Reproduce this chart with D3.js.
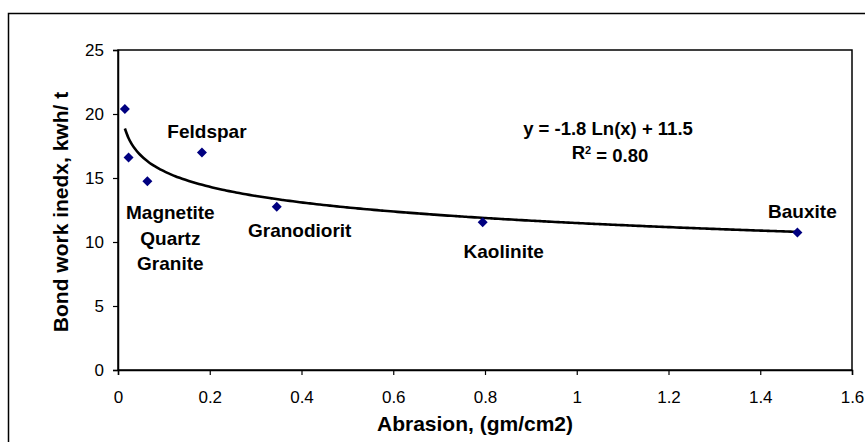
<!DOCTYPE html>
<html>
<head>
<meta charset="utf-8">
<script src="https://cdn.jsdelivr.net/npm/d3@7"></script>
<style>
  html, body { margin: 0; padding: 0; background: #fff; }
  svg { display: block; font-family: "Liberation Sans", Arial, sans-serif; }
</style>
</head>
<body>
<svg id="chart" width="865" height="442"></svg>
<script>
// ---- data ----
const abrasion  = [0.015, 0.023, 0.064, 0.183, 0.346, 0.795, 1.481];
const bondIndex = [20.4, 16.6, 14.75, 17.0, 12.75, 11.55, 10.75];
const pointNames = ["Magnetite", "Quartz", "Granite", "Feldspar", "Granodiorit", "Kaolinite", "Bauxite"];
const xTicks = [0, 0.2, 0.4, 0.6, 0.8, 1, 1.2, 1.4, 1.6];
const yTicks = [0, 5, 10, 15, 20, 25];
const xTitle = "Abrasion, (gm/cm2)";
const yTitle = "Bond work inedx, kwh/ t";

// ---- layout ----
const W = 865, H = 442;
const plot = { left: 118, right: 852, top: 50, bottom: 370 };
const svg = d3.select("#chart");

const x = d3.scaleLinear().domain([0, 1.6]).range([plot.left, plot.right]);
const y = d3.scaleLinear().domain([0, 25]).range([plot.bottom, plot.top]);

// outer chart frame
svg.append("rect")
  .attr("x", 8.5).attr("y", 13.5)
  .attr("width", W + 10).attr("height", H + 10)
  .attr("fill", "none").attr("stroke", "#000").attr("stroke-width", 1.5);

// plot area border
svg.append("rect")
  .attr("x", plot.left).attr("y", plot.top)
  .attr("width", plot.right - plot.left).attr("height", plot.bottom - plot.top)
  .attr("fill", "none").attr("stroke", "#000").attr("stroke-width", 1.5);

// axes
const xAxis = d3.axisBottom(x).tickValues(xTicks).tickSize(5).tickPadding(16)
  .tickFormat(d => String(d));
const yAxis = d3.axisLeft(y).tickValues(yTicks).tickSize(5).tickPadding(9)
  .tickFormat(d => String(d));

const gx = svg.append("g").attr("transform", `translate(0,${plot.bottom})`).call(xAxis);
const gy = svg.append("g").attr("transform", `translate(${plot.left},0)`).call(yAxis);
[gx, gy].forEach(g => {
  g.select(".domain").attr("stroke", "#000").attr("stroke-width", 1.5);
  g.selectAll(".tick line").attr("stroke", "#000").attr("stroke-width", 1.2);
  g.selectAll(".tick text").attr("fill", "#000")
    .style("font-size", "17px").style("font-family", '"Liberation Sans", Arial, sans-serif');
});

// axis titles
svg.append("text")
  .attr("x", 475).attr("y", 423).attr("dy", "0.36em")
  .attr("text-anchor", "middle")
  .style("font-size", "21px").style("font-weight", "bold")
  .text(xTitle);
svg.append("text")
  .attr("transform", "translate(60,212) rotate(-90)")
  .attr("dy", "0.36em")
  .attr("text-anchor", "middle")
  .style("font-size", "21px").style("font-weight", "bold")
  .text(yTitle);

// logarithmic trendline fitted (least squares) to the data
const lx = abrasion.map(Math.log);
const mx = d3.mean(lx), my = d3.mean(bondIndex);
const sxy = d3.sum(lx, (v, i) => (v - mx) * (bondIndex[i] - my));
const sxx = d3.sum(lx, v => (v - mx) * (v - mx));
const slope = sxy / sxx, intercept = my - slope * mx;
const syy = d3.sum(bondIndex, v => (v - my) * (v - my));
const r2 = (slope * sxy) / syy;

const xmin = d3.min(abrasion), xmax = d3.max(abrasion);
const trend = d3.range(0, 201).map(i => {
  const xv = xmin + (xmax - xmin) * i / 200;
  return [xv, slope * Math.log(xv) + intercept];
});
svg.append("path")
  .datum(trend)
  .attr("fill", "none").attr("stroke", "#000").attr("stroke-width", 2.6)
  .attr("d", d3.line().x(d => x(d[0])).y(d => y(d[1])).curve(d3.curveMonotoneX));

// markers
const diamond = d3.symbol().type(d3.symbolSquare).size(50);
svg.append("g").selectAll("path")
  .data(abrasion.map((v, i) => [v, bondIndex[i]]))
  .join("path")
  .attr("d", diamond)
  .attr("transform", d => `translate(${x(d[0])},${y(d[1])}) rotate(45)`)
  .attr("fill", "#000080");

// data labels (pixel offsets from their point)
const labelSpecs = [
  { idx: 2, lines: ["Magnetite", "Quartz", "Granite"], dx: 23, dy: 31, lh: 25.5 },
  { idx: 3, lines: ["Feldspar"], dx: 5, dy: -21, lh: 0 },
  { idx: 4, lines: ["Granodiorit"], dx: 23, dy: 23, lh: 0 },
  { idx: 5, lines: ["Kaolinite"], dx: 21, dy: 29, lh: 0 },
  { idx: 6, lines: ["Bauxite"], dx: 5, dy: -21, lh: 0 }
];
labelSpecs.forEach(s => {
  const px = x(abrasion[s.idx]) + s.dx, py = y(bondIndex[s.idx]) + s.dy;
  s.lines.forEach((t, j) => {
    svg.append("text")
      .attr("x", px).attr("y", py + j * s.lh).attr("dy", "0.36em")
      .attr("text-anchor", "middle")
      .style("font-size", "19px").style("font-weight", "bold")
      .text(t);
  });
});

// equation and R² (plain hyphen-minus, as in the original)
const fmt1 = v => v.toFixed(1);
svg.append("text")
  .attr("x", 608).attr("y", 128).attr("dy", "0.36em")
  .attr("text-anchor", "middle")
  .style("font-size", "18.5px").style("font-weight", "bold")
  .text(`y = ${fmt1(slope)} Ln(x) + ${fmt1(intercept)}`);
const rt = svg.append("text")
  .attr("x", 610).attr("y", 152).attr("dy", "0.36em")
  .attr("text-anchor", "middle")
  .style("font-size", "18.5px").style("font-weight", "bold");
rt.append("tspan").text("R");
rt.append("tspan").attr("dy", "-0.45em").style("font-size", "11px").text("2");
rt.append("tspan").attr("dy", "0.45em").text(` = ${r2.toFixed(2)}`);
</script>
</body>
</html>
